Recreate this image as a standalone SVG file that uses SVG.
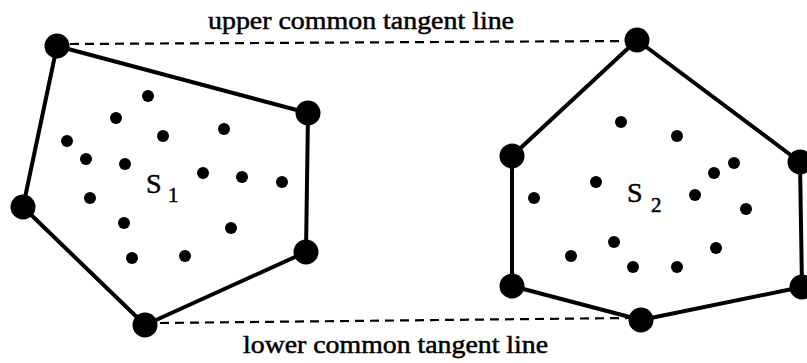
<svg xmlns="http://www.w3.org/2000/svg" width="807" height="363" viewBox="0 0 807 363">
<style>
.hull{fill:none;stroke:#000;stroke-width:4;stroke-linejoin:round}
.tan{fill:none;stroke:#000;stroke-width:2.2;stroke-dasharray:9 6}
.v{fill:#000}
.p{fill:#000}
.lbl{font-family:"Liberation Serif","Times New Roman",serif;fill:#000;stroke:#000;stroke-width:0.5}
</style>
<rect width="807" height="363" fill="#fff"/>
<g id="connectors">
<line class="tan" x1="70" y1="44" x2="625" y2="41"/>
<line class="tan" x1="160" y1="323" x2="628" y2="318"/>
<polygon id="hull1" class="hull" points="57,46 308,113 306,252 145,325 23,207"/>
<polygon id="hull2" class="hull" points="637,40 800,162 802,287 641,320 512,286 512,156"/>
</g>
<g id="set1">
<circle class="v" cx="57" cy="46" r="12.5"/>
<circle class="v" cx="308" cy="113" r="12.5"/>
<circle class="v" cx="306" cy="252" r="12.5"/>
<circle class="v" cx="145" cy="325" r="12.5"/>
<circle class="v" cx="23" cy="207" r="12.5"/>
<circle class="p" cx="148" cy="96" r="6"/>
<circle class="p" cx="116" cy="118" r="6"/>
<circle class="p" cx="163" cy="136" r="6"/>
<circle class="p" cx="224" cy="129" r="6"/>
<circle class="p" cx="67" cy="141" r="6"/>
<circle class="p" cx="86" cy="159" r="6"/>
<circle class="p" cx="125" cy="164" r="6"/>
<circle class="p" cx="203" cy="173" r="6"/>
<circle class="p" cx="242" cy="177" r="6"/>
<circle class="p" cx="282" cy="182" r="6"/>
<circle class="p" cx="90" cy="198" r="6"/>
<circle class="p" cx="124" cy="223" r="6"/>
<circle class="p" cx="231" cy="228" r="6"/>
<circle class="p" cx="132" cy="258" r="6"/>
<circle class="p" cx="185" cy="256" r="6"/>
<text class="lbl" x="146" y="193" font-size="28">S</text>
<text class="lbl" x="168" y="202" font-size="21">1</text>
</g>
<g id="set2">
<circle class="v" cx="637" cy="40" r="12.5"/>
<circle class="v" cx="800" cy="162" r="12.5"/>
<circle class="v" cx="802" cy="287" r="12.5"/>
<circle class="v" cx="641" cy="320" r="12.5"/>
<circle class="v" cx="512" cy="286" r="12.5"/>
<circle class="v" cx="512" cy="156" r="12.5"/>
<circle class="p" cx="621" cy="122" r="6"/>
<circle class="p" cx="677" cy="136" r="6"/>
<circle class="p" cx="734" cy="163" r="6"/>
<circle class="p" cx="714" cy="173" r="6"/>
<circle class="p" cx="596" cy="182" r="6"/>
<circle class="p" cx="534" cy="198" r="6"/>
<circle class="p" cx="695" cy="195" r="6"/>
<circle class="p" cx="746" cy="209" r="6"/>
<circle class="p" cx="614" cy="242" r="6"/>
<circle class="p" cx="716" cy="248" r="6"/>
<circle class="p" cx="571" cy="256" r="6"/>
<circle class="p" cx="633" cy="267" r="6"/>
<circle class="p" cx="677" cy="267" r="6"/>
<text class="lbl" x="627" y="202" font-size="28">S</text>
<text class="lbl" x="651" y="212" font-size="21">2</text>
</g>
<g id="labels">
<text class="lbl" x="208" y="29" font-size="25" textLength="306" lengthAdjust="spacingAndGlyphs">upper common tangent line</text>
<text class="lbl" x="243" y="353" font-size="25" textLength="305" lengthAdjust="spacingAndGlyphs">lower common tangent line</text>
</g>
</svg>
